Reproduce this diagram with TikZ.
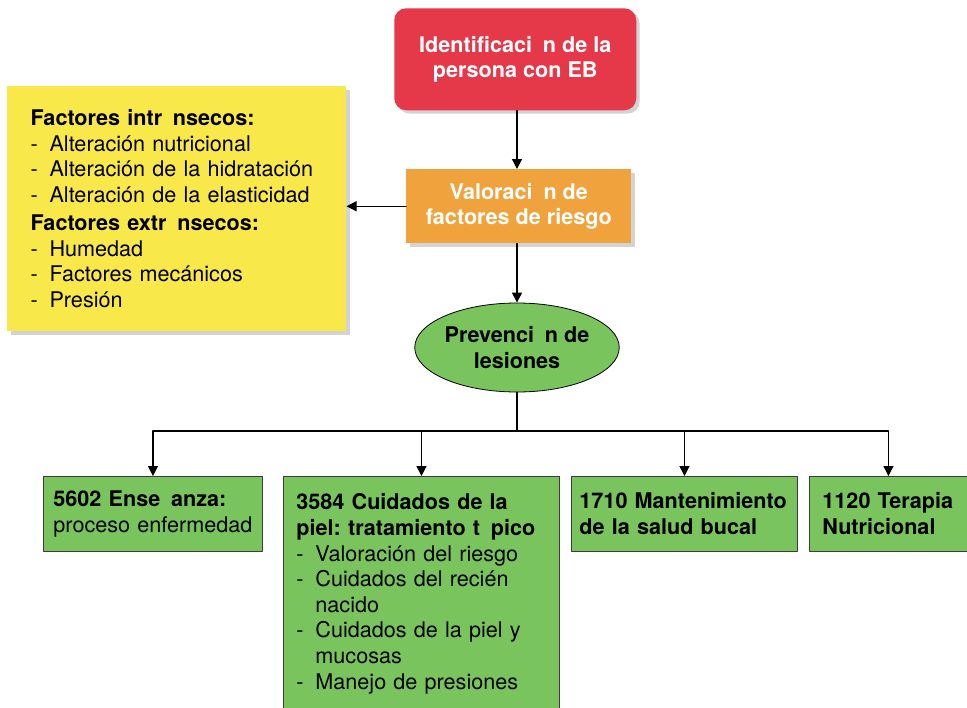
\documentclass[tikz,border=0pt]{standalone}
\usepackage{fontspec}
\setmainfont{TeX Gyre Heros}
\usepackage{xcolor}
\usepackage{tikz}
\usetikzlibrary{arrows.meta}
\usetikzlibrary{shapes.geometric}
\usetikzlibrary{shadows}

\definecolor{rojoEB}{RGB}{229,56,72}
\definecolor{naranja}{RGB}{240,163,60}
\definecolor{amarillo}{RGB}{249,232,74}
\definecolor{verde}{RGB}{121,196,92}
\definecolor{borde}{RGB}{60,60,60}

\newcommand{\letra}{\fontsize{16.2}{19.2}\selectfont\frenchspacing\hyphenpenalty=10000}
\newcommand{\hueco}{\hspace{0.5em}}
\newcommand{\guion}{\makebox[14.25pt][l]{-}}
\newcommand{\sigue}{\hspace*{14.25pt}}

\begin{document}
\begin{tikzpicture}[x=0.75pt, y=-0.75pt, line cap=round, line join=round,
    >={Triangle[length=7.5pt, width=7.5pt]},
    flecha/.style={->, line width=1pt},
    sombra/.style={drop shadow={shadow xshift=2.5pt, shadow yshift=-2.5pt, opacity=0.35}},
    cajaroja/.style={sombra, fill=rojoEB, rounded corners=9pt, text=white, font=\letra\bfseries,
      align=center, minimum width=181.5pt, minimum height=76.5pt, anchor=north west},
    cajanaranja/.style={sombra, fill=naranja, text=white, font=\letra\bfseries,
      align=center, minimum width=168.75pt, minimum height=55.5pt, anchor=north west},
    cajaamarilla/.style={sombra, fill=amarillo, font=\letra, align=left, inner xsep=17.5pt,
      text width=219.25pt, minimum height=183.75pt, anchor=north west},
    elipse/.style={ellipse, draw=black, line width=0.6pt, fill=verde, font=\letra\bfseries,
      align=center, inner sep=0pt, minimum height=66.75pt},
    cajaverde/.style={draw=borde, line width=0.7pt, fill=verde, font=\letra, align=left,
      inner xsep=9.75pt, minimum height=56pt, anchor=north west}]
  \clip (0,0) rectangle (967,707);
  %--- Identificacion
    \node[cajaroja] (ident) at (394,8) {Identificaci\hueco n de la\\persona con EB};
  %--- Valoracion
    \node[cajanaranja] (valor) at (406,169) {Valoraci\hueco n de\\factores de riesgo};
  %--- Factores de riesgo
    \node[cajaamarilla] (factores) at (7,86) {%
      \textbf{Factores intr\hueco nsecos:}\\
      \guion Alteración nutricional\\
      \guion Alteración de la hidratación\\
      \guion Alteración de la elasticidad\\[2pt]
      \textbf{Factores extr\hueco nsecos:}\\
      \guion Humedad\\
      \guion Factores mecánicos\\
      \guion Presión};
  %--- Prevencion
    \node[elipse] (prevencion) at (517,347.5) {Prevenci\hueco n de\\lesiones};
  %--- Intervenciones
    \node[cajaverde, inner xsep=7.5pt, text width=149.25pt, minimum width=164.25pt] (ensenanza) at (43,476)
      {\textbf{5602 Ense\hueco anza:}\\proceso enfermedad};
    \node[cajaverde, inner ysep=13pt, text width=187.5pt, minimum width=207pt] (cuidados) at (283,476) {%
      \textbf{3584 Cuidados de la}\\
      \textbf{piel: tratamiento t\hueco pico}\\
      \guion Valoración del riesgo\\
      \guion Cuidados del recién\\
      \sigue nacido\\
      \guion Cuidados de la piel y\\
      \sigue mucosas\\
      \guion Manejo de presiones\\
      \mbox{}};
    \node[cajaverde, inner xsep=6pt, text width=157.5pt, minimum width=169.5pt] (bucal) at (571,476)
      {\textbf{1710 Mantenimiento}\\\textbf{de la salud bucal}};
    \node[cajaverde, text width=99pt, minimum width=118.5pt] (terapia) at (809,476)
      {\textbf{1120 Terapia}\\\textbf{Nutricional}};
  %--- Conectores
    \draw[flecha] (prevencion.north |- ident.south) -- (prevencion.north |- valor.north);
    \draw[flecha] (valor.west) -- (valor.west -| factores.east);
    \draw[flecha] (prevencion.north |- valor.south) -- (prevencion.north);
    \coordinate (rama) at (517,431);
    \draw[line width=1pt] (prevencion.south) -- (rama);
    \foreach \hijo in {ensenanza, cuidados, bucal, terapia}
      \draw[flecha] (rama) -| (\hijo.north);
\end{tikzpicture}
\end{document}
